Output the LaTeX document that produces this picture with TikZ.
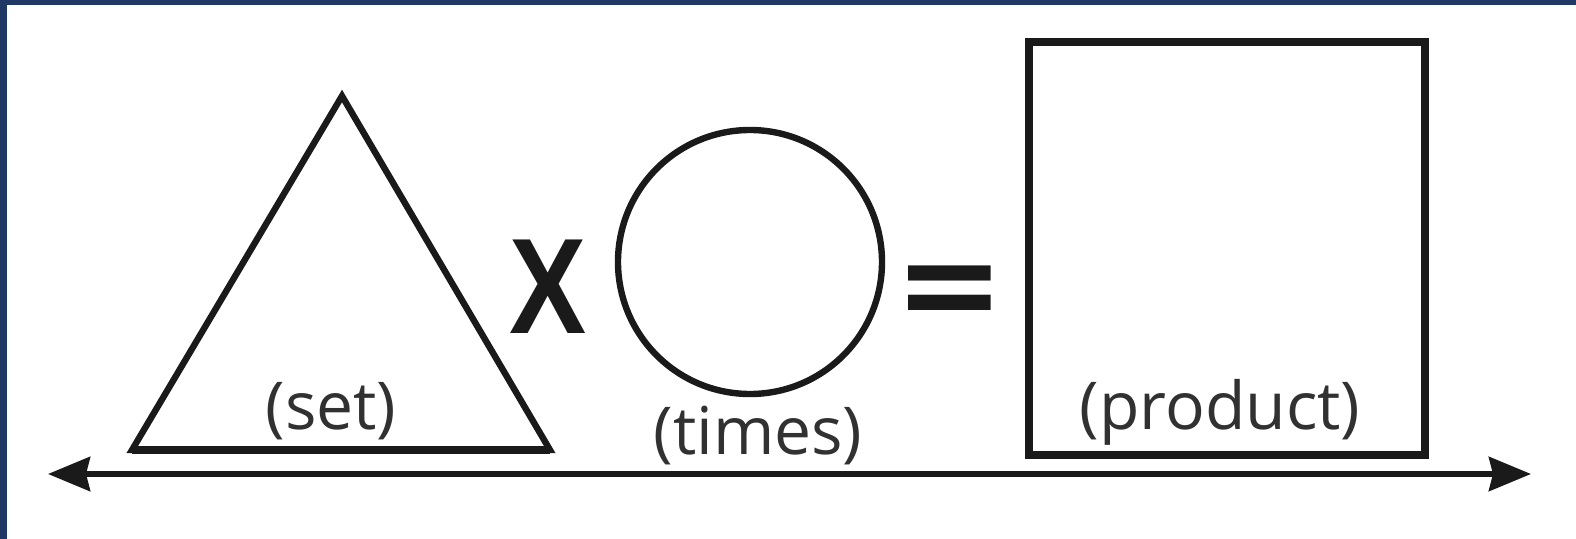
\documentclass[tikz,border=0pt]{standalone}
\usepackage{fontspec}
\setmainfont{Open Sans}
\newfontfamily\signfont{DejaVu Sans}
\newfontfamily\crossfont{Liberation Sans}
\usetikzlibrary{arrows.meta}
\definecolor{frameblue}{HTML}{1F3864}
\definecolor{ink}{HTML}{1A1A1A}

\begin{document}
\begin{tikzpicture}[
  x=0.5pt,y=-0.5pt,
  outline/.style={draw=ink,line width=3.2pt},
  caption/.style={font=\fontsize{33}{36}\selectfont,text=ink!90,inner sep=0pt},
  sign/.style={font=\signfont\bfseries\fontsize{66}{66}\selectfont,text=ink,inner sep=0pt},
  arr/.style={{Stealth[length=21pt,width=17pt,inset=2pt]}-{Stealth[length=21pt,width=17pt,inset=2pt]},line width=3pt,draw=ink}
]
  % page and frame
  \useasboundingbox (0,0) rectangle (1576,539);
  \fill[white] (0,0) rectangle (1576,539);
  \fill[frameblue] (0,0) rectangle (7,539);
  \fill[frameblue] (0,0) rectangle (1576,5);

  % the set: a triangle
  \coordinate (apex) at (342,96);
  \coordinate (baseL) at (132,450);
  \coordinate (baseR) at (550,450);
  \draw[outline] (apex) -- (baseL) -- (baseR) -- cycle;
  \draw[draw=ink,line width=4pt] (baseL) -- (baseR);
  \node[caption] (set) at (331,411) {(set)};

  % times
  \node[sign,font=\crossfont\bfseries\fontsize{68}{68}\selectfont,xscale=0.85] (mult) at (548,287) {X};
  \node[outline,circle,minimum size=132pt,inner sep=0pt] (times) at (750,262) {};
  \node[caption] (timeslbl) at (758,436) {(times)};

  % equals
  \node[sign] (eq) at (950,298) {=};

  % the product: a square
  \node[draw=ink,line width=4.4pt,rectangle,minimum width=198pt,minimum height=206.5pt,inner sep=0pt] (product) at (1227,248.5) {};
  \node[caption] (productlbl) at (1220,412) {(product)};

  % number line
  \coordinate (lineL) at (48,474);
  \coordinate (lineR) at (1531,474);
  \draw[arr] (lineL) -- (lineR);
\end{tikzpicture}
\end{document}
